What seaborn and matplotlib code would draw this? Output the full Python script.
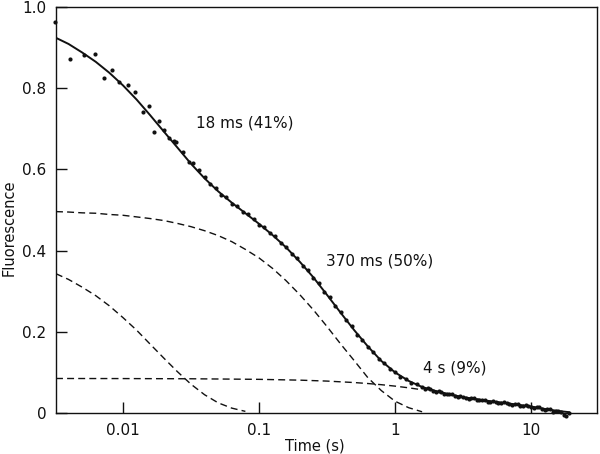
import matplotlib
matplotlib.use("Agg")
import matplotlib.pyplot as plt
import seaborn as sns
import pandas as pd

# ---- data ----
curve_t = [0.00322, 0.00398, 0.00501, 0.00631, 0.00794, 0.01, 0.0126, 0.0158, 0.02, 0.0251,
           0.0316, 0.0398, 0.0501, 0.0631, 0.0794, 0.1, 0.126, 0.158, 0.2, 0.251,
           0.316, 0.398, 0.501, 0.631, 0.794, 1.0, 1.26, 1.58, 2.0, 2.51,
           3.16, 3.98, 5.01, 6.31, 7.94, 10.0, 12.6, 15.8, 19.05]
fit_y = [0.924, 0.909, 0.888, 0.865, 0.838, 0.807, 0.772, 0.734, 0.693, 0.654,
         0.614, 0.578, 0.546, 0.518, 0.492, 0.466, 0.438, 0.408, 0.372, 0.334,
         0.291, 0.247, 0.204, 0.164, 0.128, 0.100, 0.079, 0.064, 0.054, 0.046,
         0.039, 0.034, 0.029, 0.025, 0.0205, 0.016, 0.010, 0.005, 0.002]

# 18 ms component (drawn up to ~0.08 s)
c1_t = [0.00322, 0.00398, 0.00501, 0.00631, 0.00794, 0.01, 0.0126, 0.0158, 0.02, 0.0251,
        0.0316, 0.0398, 0.0501, 0.0631, 0.0794]
c1_y = [0.343, 0.329, 0.310, 0.289, 0.264, 0.235, 0.204, 0.170, 0.135, 0.102,
        0.071, 0.045, 0.025, 0.012, 0.004]

# 370 ms component (drawn up to ~1.6 s)
c2_t = [0.00322, 0.00398, 0.00501, 0.00631, 0.00794, 0.01, 0.0126, 0.0158, 0.02, 0.0251,
        0.0316, 0.0398, 0.0501, 0.0631, 0.0794, 0.1, 0.126, 0.158, 0.2, 0.251,
        0.316, 0.398, 0.501, 0.631, 0.794, 1.0, 1.26, 1.58]
c2_y = [0.496, 0.495, 0.493, 0.492, 0.489, 0.487, 0.483, 0.479, 0.474, 0.467,
        0.459, 0.449, 0.437, 0.422, 0.403, 0.382, 0.356, 0.326, 0.291, 0.254,
        0.213, 0.170, 0.129, 0.087, 0.055, 0.029, 0.013, 0.003]

# 4 s component (drawn up to ~1.6 s)
c3_t = [0.00322, 0.01, 0.0316, 0.1, 0.2, 0.316, 0.501, 0.631, 0.794, 1.0, 1.26, 1.58]
c3_y = [0.085, 0.0848, 0.0843, 0.0829, 0.0809, 0.0786, 0.0750, 0.0726, 0.0697, 0.0662, 0.0620, 0.0572]

obs_t = [0.00316, 0.0041, 0.00516, 0.0062, 0.00725, 0.00826, 0.0094, 0.0108, 0.0123, 0.01396,
         0.01545, 0.0170, 0.0185, 0.0201, 0.0218, 0.0236, 0.0245, 0.0277, 0.0304, 0.0325, 0.036,
         0.0398, 0.0437, 0.0479, 0.0525, 0.0575, 0.0631, 0.0692, 0.0759, 0.0832, 0.0912,
         0.1, 0.1096, 0.1202, 0.1318, 0.1445, 0.1585, 0.1738, 0.1905, 0.2089, 0.2291,
         0.2512, 0.2754, 0.3020, 0.3311, 0.3631, 0.3981, 0.4365, 0.4786, 0.5248, 0.5754,
         0.6310, 0.6918, 0.7586, 0.8318, 0.9120, 1.0, 1.096, 1.202, 1.318, 1.445,
         1.585, 1.738, 1.905, 2.089, 2.291, 2.512, 2.754, 3.020, 3.311, 3.631,
         3.981, 4.365, 4.786, 5.248, 5.754, 6.310, 6.918, 7.586, 8.318, 9.120,
         10.0, 10.96, 12.02, 13.18, 14.45, 15.85, 17.38, 19.05,
         1.660, 1.820, 1.995, 2.188, 2.399, 2.630, 2.884, 3.162, 3.467, 3.802,
         4.169, 4.571, 5.012, 5.495, 6.026, 6.607, 7.244, 7.943, 8.710, 9.550,
         10.47, 11.48, 12.59, 13.80, 15.14, 16.60, 18.20]
obs_y = [0.963, 0.873, 0.881, 0.884, 0.825, 0.844, 0.815, 0.808, 0.791, 0.741,
         0.756, 0.692, 0.719, 0.697, 0.677, 0.671, 0.668, 0.644, 0.617, 0.616, 0.599,
         0.581, 0.563, 0.555, 0.538, 0.531, 0.516, 0.509, 0.495, 0.489, 0.478,
         0.464, 0.458, 0.443, 0.435, 0.418, 0.410, 0.392, 0.382, 0.363, 0.352,
         0.333, 0.319, 0.298, 0.285, 0.263, 0.249, 0.228, 0.214, 0.193, 0.181,
         0.162, 0.151, 0.133, 0.124, 0.108, 0.102, 0.089, 0.084, 0.074, 0.071,
         0.063, 0.061, 0.054, 0.053, 0.047, 0.047, 0.041, 0.041, 0.036, 0.037,
         0.032, 0.033, 0.028, 0.029, 0.024, 0.026, 0.021, 0.022, 0.018, 0.019,
         0.014, 0.015, 0.009, 0.010, 0.003, 0.005, -0.004, 0.001,
         0.060, 0.059, 0.052, 0.052, 0.046, 0.046, 0.040, 0.040, 0.035, 0.036,
         0.031, 0.032, 0.027, 0.028, 0.024, 0.025, 0.020, 0.022, 0.017, 0.018,
         0.013, 0.014, 0.008, 0.009, 0.004, 0.002, -0.007]

x_ticks = [0.01, 0.1, 1, 10]
x_tick_labels = ["0.01", "0.1", "1", "10"]
y_ticks = [0, 0.2, 0.4, 0.6, 0.8, 1.0]
y_tick_labels = ["0", "0.2", "0.4", "0.6", "0.8", "1.0"]

annotations = [("18 ms (41%)", 0.0344, 0.714),
               ("370 ms (50%)", 0.311, 0.374),
               ("4 s (9%)", 1.61, 0.111)]

# ---- plotting ----
sns.set_style("ticks")
plt.rcParams["font.family"] = ["DejaVu Sans"]

fig = plt.figure(figsize=(6.0, 4.54), dpi=100)
ax = fig.add_axes([56 / 600, 41 / 454, 541 / 600, 406 / 454])

ink = "#111111"
fit_df = pd.DataFrame({"t": curve_t, "y": fit_y})
sns.lineplot(data=fit_df, x="t", y="y", ax=ax, color=ink, linewidth=1.4, legend=False)

for tt, yy in [(c1_t, c1_y), (c2_t, c2_y), (c3_t, c3_y)]:
    d = pd.DataFrame({"t": tt, "y": yy})
    sns.lineplot(data=d, x="t", y="y", ax=ax, color=ink, linewidth=1.0,
                 linestyle=(0, (5, 3)), legend=False)

obs_df = pd.DataFrame({"t": obs_t, "y": obs_y})
sns.scatterplot(data=obs_df, x="t", y="y", ax=ax, color=ink, s=9, linewidth=0,
                legend=False, clip_on=False, zorder=3)

ax.set_xscale("log")
ax.set_xlim(0.00322, 30.5)
ax.set_ylim(0, 1.0)
ax.set_xticks(x_ticks)
ax.set_xticklabels(x_tick_labels)
ax.set_yticks(y_ticks)
ax.set_yticklabels(y_tick_labels)
ax.minorticks_off()
ax.tick_params(direction="in", length=8, width=1, labelsize=11, pad=7, colors=ink)

for sp in ax.spines.values():
    sp.set_visible(True)
    sp.set_linewidth(1.0)
    sp.set_color(ink)

ax.set_xlabel("Time (s)", fontsize=10.5, color=ink)
ax.set_ylabel("Fluorescence", fontsize=10.5, color=ink)
ax.xaxis.set_label_coords(0.479, -0.062)
ax.yaxis.set_label_coords(-0.072, 0.456)

for txt, tx, ty in annotations:
    ax.text(tx, ty, txt, fontsize=11, color=ink, ha="left", va="center")

fig.savefig("out.png", dpi=100)
